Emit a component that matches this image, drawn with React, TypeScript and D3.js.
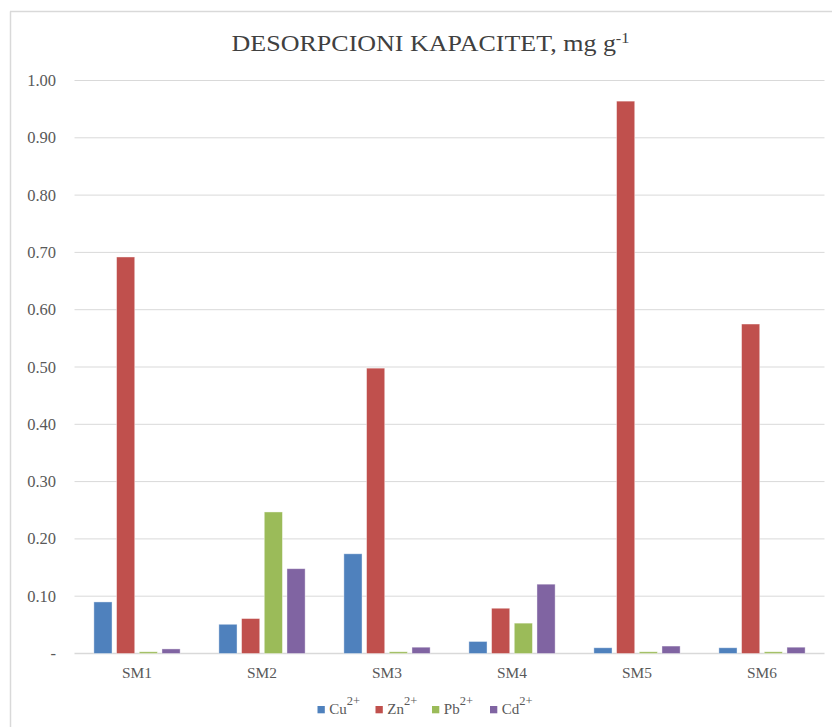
import React from "react";
import * as d3 from "d3";

const categories = ["SM1", "SM2", "SM3", "SM4", "SM5", "SM6"];
const seriesNames = ["Cu", "Zn", "Pb", "Cd"];
const cuValues = [0.09, 0.051, 0.174, 0.021, 0.01, 0.01];
const znValues = [0.692, 0.061, 0.498, 0.079, 0.964, 0.575];
const pbValues = [0.003, 0.247, 0.003, 0.053, 0.003, 0.003];
const cdValues = [0.008, 0.148, 0.011, 0.121, 0.013, 0.011];
const seriesColors = ["#4F81BD", "#C0504D", "#9BBB59", "#8064A2"];
const yTicks = [0, 0.1, 0.2, 0.3, 0.4, 0.5, 0.6, 0.7, 0.8, 0.9, 1.0];

const W = 832;
const H = 727;
const font = "Liberation Serif, DejaVu Serif, Times New Roman, serif";

export default function App() {
  const seriesValues = [cuValues, znValues, pbValues, cdValues];
  const plotLeft = 74.5;
  const plotRight = 824.5;
  const y = d3.scaleLinear().domain([0, 1]).range([653.5, 80.5]);
  const x0 = d3
    .scaleBand<string>()
    .domain(categories)
    .range([plotLeft, plotRight])
    .paddingInner(0.31)
    .paddingOuter(0.155);
  const x1 = d3
    .scaleBand<string>()
    .domain(seriesNames)
    .range([0, x0.bandwidth()])
    .paddingInner(0.2)
    .paddingOuter(0);

  const legendX = [317.5, 375.5, 432, 490];

  return (
    <svg
      width={W}
      height={H}
      style={{ position: "absolute", left: 0, top: 0, background: "#fff", fontFamily: font }}
    >
      <rect x={0} y={0} width={W} height={H} fill="#fff" />
      <line x1={10.5} y1={11.5} x2={10.5} y2={H} stroke="#d9d9d9" strokeWidth={1.5} />
      <line x1={10} y1={11.5} x2={W} y2={11.5} stroke="#d9d9d9" strokeWidth={1.5} />

      <g transform="translate(430.5,51) scale(1.084,1)">
        <text x={0} y={0} textAnchor="middle" style={{ fontFamily: font }} fontSize={24} fill="#404040">
          DESORPCIONI KAPACITET, mg g
          <tspan dy={-8} fontSize={15}>-1</tspan>
        </text>
      </g>

      {yTicks.map((t) => (
        <g key={t}>
          <line
            x1={plotLeft}
            x2={plotRight}
            y1={y(t)}
            y2={y(t)}
            stroke="#d9d9d9"
            strokeWidth={t === 0 ? 1.5 : 1}
          />
          <text
            x={56}
            y={y(t) + 5.5}
            textAnchor="end"
            style={{ fontFamily: font }}
            fontSize={16.5}
            fill="#595959"
          >
            {t === 0 ? "-" : d3.format(".2f")(t)}
          </text>
        </g>
      ))}

      {categories.map((c, ci) => (
        <g key={c} transform={`translate(${x0(c)},0)`}>
          {seriesNames.map((s, si) => {
            const v = seriesValues[si][ci];
            return (
              <rect
                key={s}
                x={x1(s)}
                y={y(v)}
                width={x1.bandwidth()}
                height={y(0) - y(v)}
                fill={seriesColors[si]}
                stroke="#fff"
                strokeOpacity={0.5}
                strokeWidth={0.8}
              />
            );
          })}
        </g>
      ))}

      {categories.map((c) => (
        <text
          key={c}
          x={(x0(c) as number) + x0.bandwidth() / 2}
          y={678}
          textAnchor="middle"
          style={{ fontFamily: font }}
          fontSize={15.4}
          fill="#595959"
        >
          {c}
        </text>
      ))}

      {seriesNames.map((s, i) => (
        <g key={s}>
          <rect x={legendX[i]} y={706} width={7.3} height={7.3} fill={seriesColors[i]} />
          <text
            x={legendX[i] + 11.8}
            y={714}
            style={{ fontFamily: font }}
            fontSize={15}
            fill="#595959"
          >
            {s}
            <tspan dy={-9} fontSize={12.5}>2+</tspan>
          </text>
        </g>
      ))}
    </svg>
  );
}
